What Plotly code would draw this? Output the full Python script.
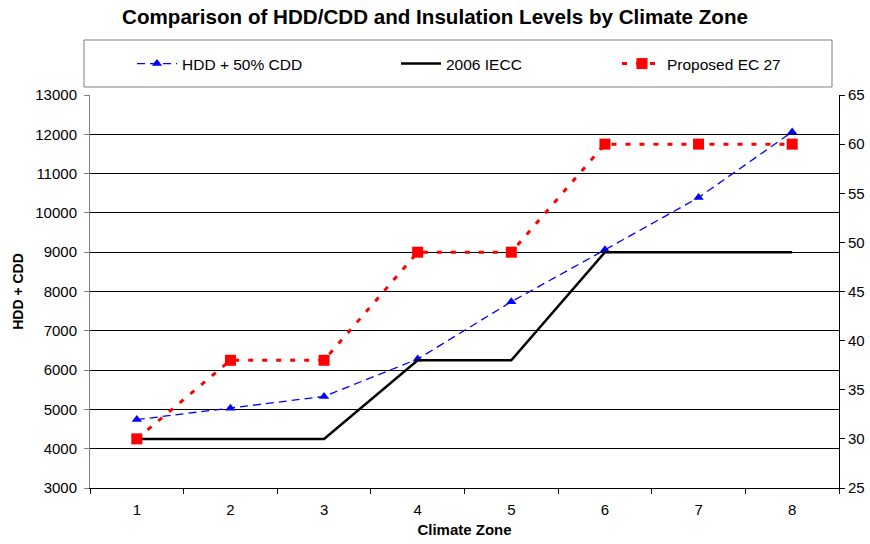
import plotly.graph_objects as go

zones = [1, 2, 3, 4, 5, 6, 7, 8]
hdd_cdd = [4740, 5030, 5330, 6280, 7740, 9060, 10390, 12060]
iecc_2006 = [30, 30, 30, 38, 38, 49, 49, 49]
proposed_ec27 = [30, 38, 38, 49, 49, 60, 60, 60]
left_ticks = list(range(3000, 13001, 1000))
right_ticks = list(range(25, 66, 5))
boundaries = [z - 0.5 for z in zones] + [zones[-1] + 0.5]

FONT = "Liberation Sans, Arial, sans-serif"
W, H = 870, 544

fig = go.Figure()
fig.add_trace(go.Scatter(
    x=zones, y=hdd_cdd, name="HDD + 50% CDD", mode="lines+markers",
    line=dict(color="#0000FF", width=1.3, dash="8px,5px"),
    marker=dict(symbol="triangle-up", size=9, color="#0000FF"),
    yaxis="y", legend="legend"))
fig.add_trace(go.Scatter(
    x=zones, y=iecc_2006, name="2006 IECC", mode="lines",
    line=dict(color="#000000", width=2.5),
    yaxis="y2", legend="legend2"))
fig.add_trace(go.Scatter(
    x=zones, y=proposed_ec27, name="Proposed EC 27", mode="lines+markers",
    line=dict(color="#FF0000", width=3, dash="5px,9px"),
    marker=dict(symbol="square", size=11, color="#FF0000"),
    yaxis="y2", legend="legend3"))

def leg(px, py):
    return dict(x=px / W, y=1 - py / H, xref="container", yref="container",
                xanchor="left", yanchor="middle", orientation="h",
                bgcolor="rgba(0,0,0,0)", borderwidth=0, itemwidth=40,
                font=dict(family=FONT, size=15.5, color="#000"))

fig.update_layout(
    width=W, height=H,
    showlegend=True,
    margin=dict(l=90, r=31, t=95, b=56, autoexpand=False),
    paper_bgcolor="white", plot_bgcolor="white",
    font=dict(family=FONT, size=15, color="#000"),
    title=dict(text="<b>Comparison of HDD/CDD and Insulation Levels by Climate Zone</b>",
               x=0.5, xref="container", xanchor="center",
               y=1 - 17 / H, yref="container", yanchor="middle",
               font=dict(family=FONT, size=20.6, color="#000")),
    legend=leg(132, 64), legend2=leg(396, 64), legend3=leg(617, 64),
    xaxis=dict(range=[0.5, 8.5], tickvals=zones, ticks="", showgrid=False,
               showline=True, linecolor="#000", linewidth=1, zeroline=False,
               tickfont=dict(size=15), automargin=False, ticklabelstandoff=8,
               minor=dict(tickvals=boundaries, ticks="outside", ticklen=5,
                          tickcolor="#000", tickwidth=1, showgrid=False),
               title=dict(text="<b>Climate Zone</b>", font=dict(size=15), standoff=7)),
    yaxis=dict(range=[3000, 13000], tickvals=left_ticks, tickformat="d",
               ticks="outside", ticklen=5, automargin=False, ticklabelstandoff=4,
               tickcolor="#808080", showline=True, linecolor="#808080", linewidth=1,
               showgrid=True, gridcolor="#000", gridwidth=1, zeroline=False,
               tickfont=dict(size=15),
               title=dict(text="<b>HDD + CDD</b>", font=dict(size=14), standoff=8)),
    yaxis2=dict(range=[25, 65], tickvals=right_ticks, overlaying="y", side="right",
                ticks="outside", ticklen=5, tickcolor="#000", showline=True,
                linecolor="#000", linewidth=1, showgrid=False, zeroline=False,
                automargin=False, tickfont=dict(size=15)),
    yaxis3=dict(range=[25, 65], tickvals=right_ticks, overlaying="y", side="right",
                anchor="x", ticks="inside", ticklen=5, tickcolor="#000",
                automargin=False,
                showticklabels=False, showline=False, showgrid=False, zeroline=False),
    shapes=[dict(type="rect", xref="paper", yref="paper",
                 x0=(84 - 90) / 749, x1=(832 - 90) / 749,
                 y0=(488 - 87) / 393, y1=(488 - 40) / 393,
                 line=dict(color="#808080", width=1), fillcolor="rgba(0,0,0,0)")],
)

fig.write_html("out.html")
